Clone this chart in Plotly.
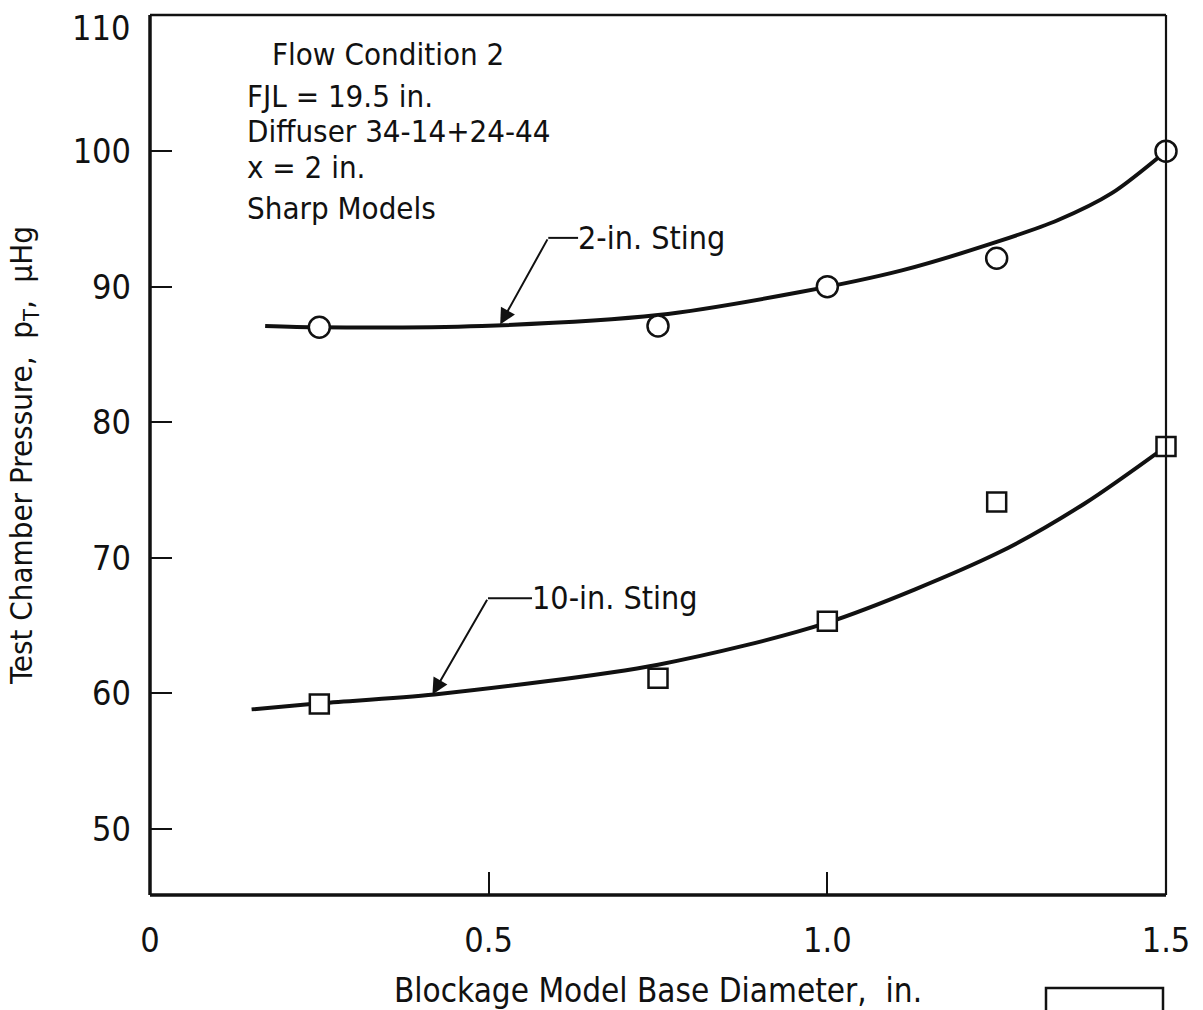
import plotly.graph_objects as go

# Measured test-chamber pressure for the two sting sizes
diameters = [0.25, 0.75, 1.0, 1.25, 1.5]
p_sting2 = [87.0, 87.1, 90.0, 92.1, 100.0]
p_sting10 = [59.2, 61.1, 65.3, 74.1, 78.2]

# Faired curves through the data
fair2_x = [0.17, 0.25, 0.49, 0.75, 0.96, 1.11, 1.25, 1.34, 1.42, 1.5]
fair2_y = [87.1, 87.0, 87.1, 87.9, 89.6, 91.2, 93.3, 94.9, 96.9, 100.0]
fair10_x = [0.15, 0.25, 0.42, 0.75, 1.0, 1.25, 1.38, 1.5]
fair10_y = [58.8, 59.25, 59.9, 62.1, 65.2, 70.3, 74.0, 78.2]

x_ticks = [0, 0.5, 1.0, 1.5]
x_tick_text = ["0", "0.5", "1.0", "1.5"]
y_ticks = [50, 60, 70, 80, 90, 100, 110]

notes = ["Flow Condition 2", "FJL = 19.5 in.", "Diffuser 34-14+24-44",
         "x = 2 in.", "Sharp Models"]

FONT = "Liberation Sans Narrow, DejaVu Sans Condensed, Arial Narrow, sans-serif"
INK = "#111111"

fig = go.Figure()

fig.add_trace(go.Scatter(x=fair2_x, y=fair2_y, mode="lines",
                         line=dict(color=INK, width=4, shape="spline", smoothing=0.8),
                         showlegend=False, hoverinfo="skip"))
fig.add_trace(go.Scatter(x=fair10_x, y=fair10_y, mode="lines",
                         line=dict(color=INK, width=4, shape="spline", smoothing=0.8),
                         showlegend=False, hoverinfo="skip"))
fig.add_trace(go.Scatter(x=diameters, y=p_sting2, mode="markers", name="2-in. Sting",
                         marker=dict(symbol="circle", size=21, color="white",
                                     line=dict(color=INK, width=2.5)),
                         showlegend=False, cliponaxis=False))
fig.add_trace(go.Scatter(x=diameters, y=p_sting10, mode="markers", name="10-in. Sting",
                         marker=dict(symbol="square", size=19, color="white",
                                     line=dict(color=INK, width=2.5)),
                         showlegend=False, cliponaxis=False))

# Frame: heavier left and bottom edges
frame = [
    dict(x0=0, x1=0, y0=0, y1=1, w=3.5),
    dict(x0=0, x1=1, y0=0, y1=0, w=3.5),
    dict(x0=0, x1=1, y0=1, y1=1, w=2.5),
    dict(x0=1, x1=1, y0=0, y1=1, w=2.2),
]
for f in frame:
    fig.add_shape(type="line", xref="paper", yref="paper",
                  x0=f["x0"], x1=f["x1"], y0=f["y0"], y1=f["y1"],
                  line=dict(color=INK, width=f["w"]))

# Condition notes
note_pos = [(0.177, 107.2), (0.140, 104.1), (0.140, 101.5), (0.140, 98.8), (0.140, 95.8)]
for txt, (nx, ny) in zip(notes, note_pos):
    fig.add_annotation(x=nx, y=ny, xref="x", yref="y", text=txt, showarrow=False,
                       xanchor="left", yanchor="middle",
                       font=dict(family=FONT, size=31, color=INK))

# Curve labels with leader lines
leaders = [
    dict(label="2-in. Sting", tip=(0.517, 87.2), elbow=(0.588, 93.6), end=0.632),
    dict(label="10-in. Sting", tip=(0.417, 59.9), elbow=(0.499, 67.0), end=0.564),
]
for ld in leaders:
    ex, ey = ld["elbow"]
    fig.add_shape(type="line", xref="x", yref="y", x0=ex, x1=ld["end"], y0=ey, y1=ey,
                  line=dict(color=INK, width=2))
    fig.add_annotation(x=ld["tip"][0], y=ld["tip"][1], ax=ex, ay=ey,
                       xref="x", yref="y", axref="x", ayref="y", text="",
                       showarrow=True, arrowhead=2, arrowsize=1.6, arrowwidth=2,
                       arrowcolor=INK, standoff=0)
    fig.add_annotation(x=ld["end"], y=ey, xref="x", yref="y", text=ld["label"],
                       showarrow=False, xanchor="left", yanchor="middle", xshift=-2,
                       font=dict(family=FONT, size=32, color=INK))

# Top tick label sits just below the frame corner
y_tick_text = [str(v) for v in y_ticks[:-1]] + [""]
fig.add_annotation(x=0, y=y_ticks[-1], xref="paper", yref="y", text=str(y_ticks[-1]),
                   showarrow=False, xanchor="right", yanchor="middle",
                   xshift=-18, yshift=-12, font=dict(family=FONT, size=34, color=INK))

# Partially visible box at the lower right of the page
fig.add_shape(type="rect", xref="paper", yref="paper",
              x0=(1046 - 150) / 1016, x1=(1163 - 150) / 1016,
              y0=-(1030 - 895) / 880, y1=-(988 - 895) / 880,
              line=dict(color=INK, width=2.5), fillcolor="rgba(0,0,0,0)")

fig.update_layout(
    width=1203, height=1010,
    margin=dict(l=150, r=37, t=15, b=115, autoexpand=False),
    paper_bgcolor="white", plot_bgcolor="white",
    font=dict(family=FONT, size=34, color=INK),
    xaxis=dict(range=[0, 1.5], tickvals=x_ticks, ticktext=x_tick_text,
               ticks="inside", ticklen=23, tickwidth=2, tickcolor=INK,
               showgrid=False, zeroline=False, showline=False, automargin=False,
               ticklabelstandoff=22,
               title=dict(text="Blockage Model Base Diameter,  in.", standoff=28,
                          font=dict(family=FONT, size=33))),
    yaxis=dict(range=[45.1, 110.05], tickvals=y_ticks, ticktext=y_tick_text,
               ticks="inside", ticklen=22, tickwidth=2, tickcolor=INK,
               showgrid=False, zeroline=False, showline=False, automargin=False,
               ticklabelstandoff=18,
               title=dict(text="Test Chamber Pressure,  p<sub>T</sub>,  μHg", standoff=30,
                          font=dict(family=FONT, size=31))),
)

fig.write_html("out.html")
